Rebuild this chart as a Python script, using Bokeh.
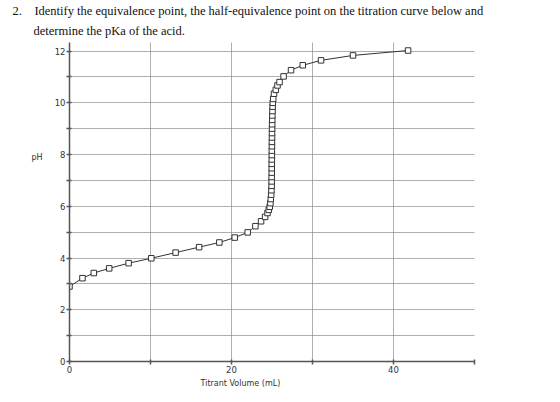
from bokeh.plotting import figure
from bokeh.models import FixedTicker, Range1d, Grid, Title, LinearAxis
from bokeh.embed import file_html
from bokeh.resources import INLINE

# Titrant volume (mL) and pH readings
volume_ml = [0.0, 1.6, 3.0, 4.9, 7.3, 10.1, 13.1, 16.0, 18.5, 20.4,
             22.0, 22.95, 23.65, 24.15, 24.45, 24.6, 24.72, 24.8, 24.85, 24.9,
             24.93, 24.95, 24.96, 24.96, 24.97, 24.97, 24.97, 24.98, 24.98, 24.98,
             24.99, 24.99, 25.0, 25.0, 25.01, 25.02, 25.03, 25.04, 25.06, 25.08,
             25.1, 25.15, 25.25, 25.47, 25.68, 25.93, 26.43, 27.35, 28.8, 31.05,
             35.0, 41.8]
ph_values = [2.9, 3.22, 3.42, 3.6, 3.8, 3.99, 4.21, 4.42, 4.6, 4.79,
             4.99, 5.23, 5.42, 5.59, 5.74, 5.86, 5.98, 6.12, 6.28, 6.45,
             6.62, 6.79, 6.96, 7.13, 7.3, 7.47, 7.64, 7.81, 7.98, 8.15,
             8.32, 8.49, 8.66, 8.83, 9.0, 9.17, 9.34, 9.51, 9.68, 9.85,
             10.0, 10.15, 10.35, 10.5, 10.67, 10.8, 11.02, 11.26, 11.45, 11.64,
             11.83, 12.02]

x_ticks = [0, 10, 20, 30, 40, 50]
x_tick_labels = {0: "0", 10: "", 20: "20", 30: "", 40: "40", 50: ""}
y_ticks = [0, 1, 2, 3, 4, 5, 6, 7, 8, 9, 10, 11, 12]
y_tick_labels = {0: "0", 1: "", 2: "2", 3: "", 4: "4", 5: "", 6: "6", 7: "", 8: "8",
                 9: "", 10: "10", 11: "", 12: "12"}

title_line1 = "2.\u00a0\u00a0\u00a0\u00a0Identify the equivalence point, the half-equivalence point on the titration curve below and"
title_line2 = "determine the pKa of the acid."
x_label = "Titrant Volume (mL)"
x_label_at = 21.1
y_label = "pH"
y_label_at = 7.9

p = figure(width=560, height=402, output_backend="svg", toolbar_location=None,
           x_range=Range1d(0, 50), y_range=Range1d(0, 12.33),
           min_border_left=69, min_border_right=86, min_border_top=42, min_border_bottom=41)
p.outline_line_color = None
p.background_fill_color = "white"

# grids: light solid + dotted overlay
p.xgrid.ticker = FixedTicker(ticks=x_ticks)
p.ygrid.ticker = FixedTicker(ticks=y_ticks)
p.xgrid.grid_line_color = "#e4e4e4"
p.ygrid.grid_line_color = "#e4e4e4"
gx = Grid(dimension=0, ticker=FixedTicker(ticks=x_ticks), grid_line_color="#7a7a7a",
          grid_line_dash="1 1", grid_line_width=1)
gy = Grid(dimension=1, ticker=FixedTicker(ticks=y_ticks), grid_line_color="#7a7a7a",
          grid_line_dash="1 1", grid_line_width=1)
p.add_layout(gx, "center")
p.add_layout(gy, "center")

for ax in (p.xaxis[0], p.yaxis[0]):
    ax.axis_line_color = "#555555"
    ax.axis_line_width = 1.5
    ax.major_tick_line_color = "#555555"
    ax.major_tick_line_width = 1.5
    ax.minor_tick_line_color = None
    ax.major_label_text_font = "DejaVu Sans"
    ax.major_label_text_font_size = "8.5px"
    ax.major_label_text_color = "#333333"
    ax.major_tick_out = 3
    ax.major_tick_in = 2
    ax.major_label_standoff = 1

p.xaxis.ticker = FixedTicker(ticks=x_ticks)
p.xaxis.major_label_overrides = x_tick_labels
p.yaxis.ticker = FixedTicker(ticks=y_ticks)
p.yaxis.major_label_overrides = y_tick_labels

# axis titles as single labelled positions on label-only axes
x_title_axis = LinearAxis(ticker=FixedTicker(ticks=[x_label_at]),
                          major_label_overrides={x_label_at: x_label},
                          axis_line_color=None, major_tick_line_color=None,
                          minor_tick_line_color=None, major_tick_out=0, major_tick_in=0,
                          major_label_standoff=3,
                          major_label_text_font="DejaVu Sans",
                          major_label_text_font_size="8px",
                          major_label_text_color="#333333")
p.add_layout(x_title_axis, "below")
y_title_axis = LinearAxis(ticker=FixedTicker(ticks=[y_label_at]),
                          major_label_overrides={y_label_at: y_label},
                          axis_line_color=None, major_tick_line_color=None,
                          minor_tick_line_color=None, major_tick_out=0, major_tick_in=0,
                          major_label_standoff=9,
                          major_label_text_font="DejaVu Sans",
                          major_label_text_font_size="8px",
                          major_label_text_color="#333333")
p.add_layout(y_title_axis, "left")

p.line(volume_ml, ph_values, line_color="#333333", line_width=1)
p.scatter(volume_ml, ph_values, marker="square", size=5.5,
          fill_color="white", line_color="#333333", line_width=1)

serif = dict(text_font="Liberation Serif", text_font_size="12.5px", text_color="#111111",
             text_font_style="normal", align="left")
p.add_layout(Title(text=title_line2, offset=-36, standoff=10, **serif), "above")
p.add_layout(Title(text=title_line1, offset=-57, standoff=-3, **serif), "above")

open("out.html", "w").write(file_html(p, INLINE))
